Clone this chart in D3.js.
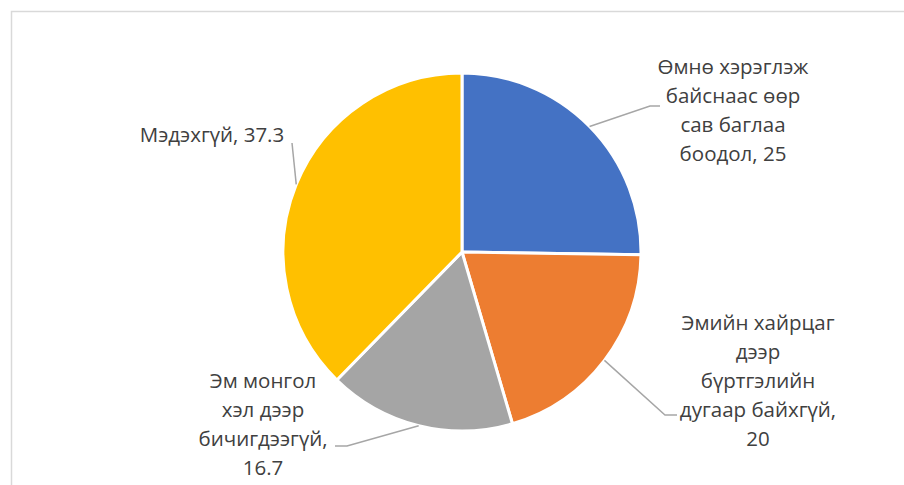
<!DOCTYPE html>
<html>
<head>
<meta charset="utf-8">
<script src="https://cdn.jsdelivr.net/npm/d3@7"></script>
<style>
  body { margin: 0; background: #fff; }
  svg { display: block; }
  .lbl { font-family: "Open Sans", sans-serif; fill: #404040; }
</style>
</head>
<body>
<svg id="chart" width="904" height="485"></svg>
<script>
// data
var categories = ["Өмнө хэрэглэж\nбайснаас өөр\nсав баглаа\nбоодол",
                  "Эмийн хайрцаг\nдээр\nбүртгэлийн\nдугаар байхгүй",
                  "Эм монгол\nхэл дээр\nбичигдээгүй",
                  "Мэдэхгүй"];
var values = [25, 20, 16.7, 37.3];
var colors = ["#4472C4", "#ED7D31", "#A5A5A5", "#FFC000"];
var valueOnOwnLine = [false, true, true, false];

// label layout (center x, first baseline, elbow point, leader end)
var labelPos = [
    {x: 733, y: 74,  elbow: [650, 106], end: [660, 106]},
    {x: 758, y: 330, elbow: [665, 415], end: [677, 415]},
    {x: 263, y: 388, elbow: [347, 446], end: [335, 446]},
    {x: 212, y: 142, elbow: [292, 143], end: [292, 143]}
];

var width = 904, height = 485,
    cx = 462, cy = 252, radius = 179,
    lineH = 29;

var svg = d3.select("#chart");

// chart area frame
svg.append("rect")
    .attr("x", 11.5).attr("y", 11.5)
    .attr("width", 1000).attr("height", 1000)
    .attr("fill", "none")
    .attr("stroke", "#d9d9d9")
    .attr("stroke-width", 1.5);

var pie = d3.pie().sort(null).value(function(d) { return d; });
var arcs = pie(values);

var arc = d3.arc().innerRadius(0).outerRadius(radius);

var g = svg.append("g").attr("transform", "translate(" + cx + "," + cy + ")");

g.selectAll("path.slice")
    .data(arcs)
    .enter().append("path")
    .attr("class", "slice")
    .attr("d", arc)
    .attr("fill", function(d, i) { return colors[i]; })
    .attr("stroke", "#fff")
    .attr("stroke-width", 3)
    .attr("stroke-linejoin", "round");

// leader lines start at the slice edge, mid angle
svg.selectAll("polyline.leader")
    .data(arcs)
    .enter().append("polyline")
    .attr("class", "leader")
    .attr("fill", "none")
    .attr("stroke", "#a6a6a6")
    .attr("stroke-width", 1.5)
    .attr("points", function(d, i) {
        var a = (d.startAngle + d.endAngle) / 2,
            sx = cx + Math.sin(a) * radius,
            sy = cy - Math.cos(a) * radius,
            p = labelPos[i];
        return [[sx, sy], p.elbow, p.end].map(function(q) { return q.join(","); }).join(" ");
    });

// labels
var fontSize = 20.5;
svg.selectAll("text.lbl")
    .data(arcs)
    .enter().append("text")
    .attr("class", "lbl")
    .attr("text-anchor", "middle")
    .style("font-size", fontSize + "px")
    .each(function(d, i) {
        var txt = categories[i] + "," + (valueOnOwnLine[i] ? "\n" : " ") + values[i];
        var lines = txt.split("\n"),
            p = labelPos[i];
        d3.select(this).selectAll("tspan")
            .data(lines)
            .enter().append("tspan")
            .attr("x", p.x)
            .attr("y", function(l, k) { return p.y + k * lineH; })
            .text(function(l) { return l; });
    });
</script>
</body>
</html>
